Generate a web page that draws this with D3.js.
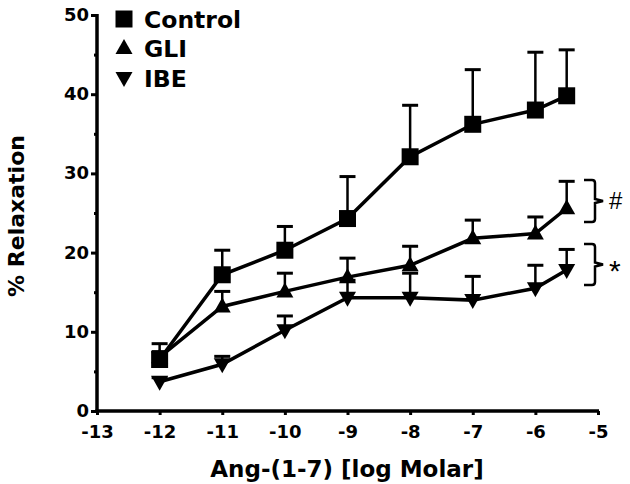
<!DOCTYPE html>
<html><head><meta charset="utf-8">
<script src="https://cdn.jsdelivr.net/npm/d3@7"></script>
<style>body{margin:0;background:#fff}svg{display:block}text{font-family:"DejaVu Sans",sans-serif;font-weight:bold}</style>
</head><body><svg id="c" width="630" height="484"></svg>
<script>
const doses = [-12, -11, -10, -9, -8, -7, -6, -5.5];
const controlMean = [6.5, 17.2, 20.3, 24.3, 32.1, 36.2, 38.0, 39.8];
const controlErr  = [8.5, 20.3, 23.3, 29.6, 38.6, 43.1, 45.3, 45.6];
const gliMean = [6.8, 13.2, 15.1, 16.9, 18.4, 21.8, 22.4, 25.6];
const gliErr  = [7.5, 15.1, 17.4, 19.3, 20.8, 24.1, 24.5, 29.0];
const ibeMean = [3.7, 5.9, 10.2, 14.3, 14.3, 14.0, 15.5, 17.8];
const ibeErr  = [4.2, 6.9, 12.0, 16.5, 17.4, 17.0, 18.4, 20.4];
const seriesNames = ["Control", "GLI", "IBE"];
const xTicks = [-13, -12, -11, -10, -9, -8, -7, -6, -5];
const yTicks = [0, 10, 20, 30, 40, 50];
const yMinor = [5, 15, 25, 35, 45];

const svg = d3.select("#c");
const x = d3.scaleLinear().domain([-13, -5]).range([97, 598]);
const y = d3.scaleLinear().domain([0, 50]).range([411, 15]);

const shapes = {
  square: "M-8.5,-8.5H8.5V8.5H-8.5Z",
  up: "M0,-9L8.5,6L-8.5,6Z",
  down: "M0,9L8.5,-6L-8.5,-6Z"
};
const series = [
  {name: seriesNames[2], mean: ibeMean, err: ibeErr, shape: "down"},
  {name: seriesNames[1], mean: gliMean, err: gliErr, shape: "up"},
  {name: seriesNames[0], mean: controlMean, err: controlErr, shape: "square"}
];

// axes
const yAxis = svg.append("g").attr("transform", "translate(97,0)")
  .call(d3.axisLeft(y).tickValues(yTicks).tickSize(6).tickPadding(2).tickFormat(d => String(d)));
const yAxisMinor = svg.append("g").attr("transform", "translate(97,0)")
  .call(d3.axisLeft(y).tickValues(yMinor).tickSize(3).tickFormat(""));
const xAxis = svg.append("g").attr("transform", "translate(0,411)")
  .call(d3.axisBottom(x).tickValues(xTicks).tickSize(4).tickPadding(10).tickFormat(d => String(d)));
[yAxis, yAxisMinor, xAxis].forEach(g => {
  g.attr("font-family", null).attr("font-size", null);
  g.select(".domain").attr("stroke", "#000").attr("stroke-width", 3.5);
  g.selectAll(".tick line").attr("stroke", "#000").attr("stroke-width", 3);
  g.selectAll(".tick text").attr("fill", "#000")
    .style("font-size", "18px").style("font-weight", "bold").style("font-family", '"DejaVu Sans",sans-serif');
});
yAxis.select(".domain").attr("d", "M0,412.5V14");
xAxis.select(".domain").attr("d", "M95.5,0H599");
yAxisMinor.select(".domain").remove();
yAxis.selectAll(".tick text").attr("dy", "0.3em");

// series
const line = d3.line().x(d => x(d[0])).y(d => y(d[1]));
series.forEach(s => {
  const g = svg.append("g");
  const pts = doses.map((d, i) => [d, s.mean[i], s.err[i]]);
  g.selectAll("line.eb").data(pts).join("line")
    .attr("x1", d => x(d[0])).attr("x2", d => x(d[0]))
    .attr("y1", d => y(d[1])).attr("y2", d => y(d[2]))
    .attr("stroke", "#000").attr("stroke-width", 2.5);
  g.selectAll("line.cap").data(pts).join("line")
    .attr("x1", d => x(d[0]) - 8).attr("x2", d => x(d[0]) + 8)
    .attr("y1", d => y(d[2])).attr("y2", d => y(d[2]))
    .attr("stroke", "#000").attr("stroke-width", 3);
  g.append("path").datum(pts).attr("d", line)
    .attr("fill", "none").attr("stroke", "#000").attr("stroke-width", 3.5);
  g.selectAll("path.m").data(pts).join("path").attr("class", "m")
    .attr("transform", d => `translate(${x(d[0])},${y(d[1])})`)
    .attr("d", shapes[s.shape]).attr("fill", "#000");
});

// legend
const legend = [
  {name: seriesNames[0], shape: "square", yy: 19},
  {name: seriesNames[1], shape: "up", yy: 48},
  {name: seriesNames[2], shape: "down", yy: 78}
];
legend.forEach(l => {
  svg.append("path").attr("transform", `translate(124,${l.yy})`).attr("d", shapes[l.shape]).attr("fill", "#000");
  svg.append("text").attr("x", 144).attr("y", l.yy + 8.5).style("font-size", "23.5px")
    .attr("fill", "#000").text(l.name);
});

// significance brackets
function brace(y0, y1, xl) {
  const m = (y0 + y1) / 2, w = 11;
  return `M${xl},${y0} L${xl + w - 3},${y0} Q${xl + w},${y0} ${xl + w},${y0 + 3} L${xl + w},${m - 2} L${xl + w + 8},${m} ` +
    `L${xl + w},${m + 2} L${xl + w},${y1 - 3} Q${xl + w},${y1} ${xl + w - 3},${y1} L${xl},${y1}`;
}
const sig = [{y0: 180, y1: 222, label: "#", fs: 24, dy: 8}, {y0: 244, y1: 285, label: "*", fs: 30, dy: 16}];
sig.forEach(s => {
  svg.append("path").attr("d", brace(s.y0, s.y1, 584)).attr("fill", "none").attr("stroke", "#000").attr("stroke-width", 2.5);
  svg.append("text").attr("x", 609).attr("y", (s.y0 + s.y1) / 2 + s.dy)
    .style("font-size", s.fs + "px").style("font-weight", "normal").style("font-family", '"Liberation Sans",Arial,sans-serif')
    .attr("fill", "#000").text(s.label);
});

// axis titles
svg.append("text").attr("x", 347).attr("y", 477).attr("text-anchor", "middle")
  .style("font-size", "23px").attr("fill", "#000").text("Ang-(1-7) [log Molar]");
svg.append("text").attr("transform", "translate(24,216) rotate(-90)").attr("text-anchor", "middle")
  .style("font-size", "22px").attr("fill", "#000").text("% Relaxation");
</script></body></html>
